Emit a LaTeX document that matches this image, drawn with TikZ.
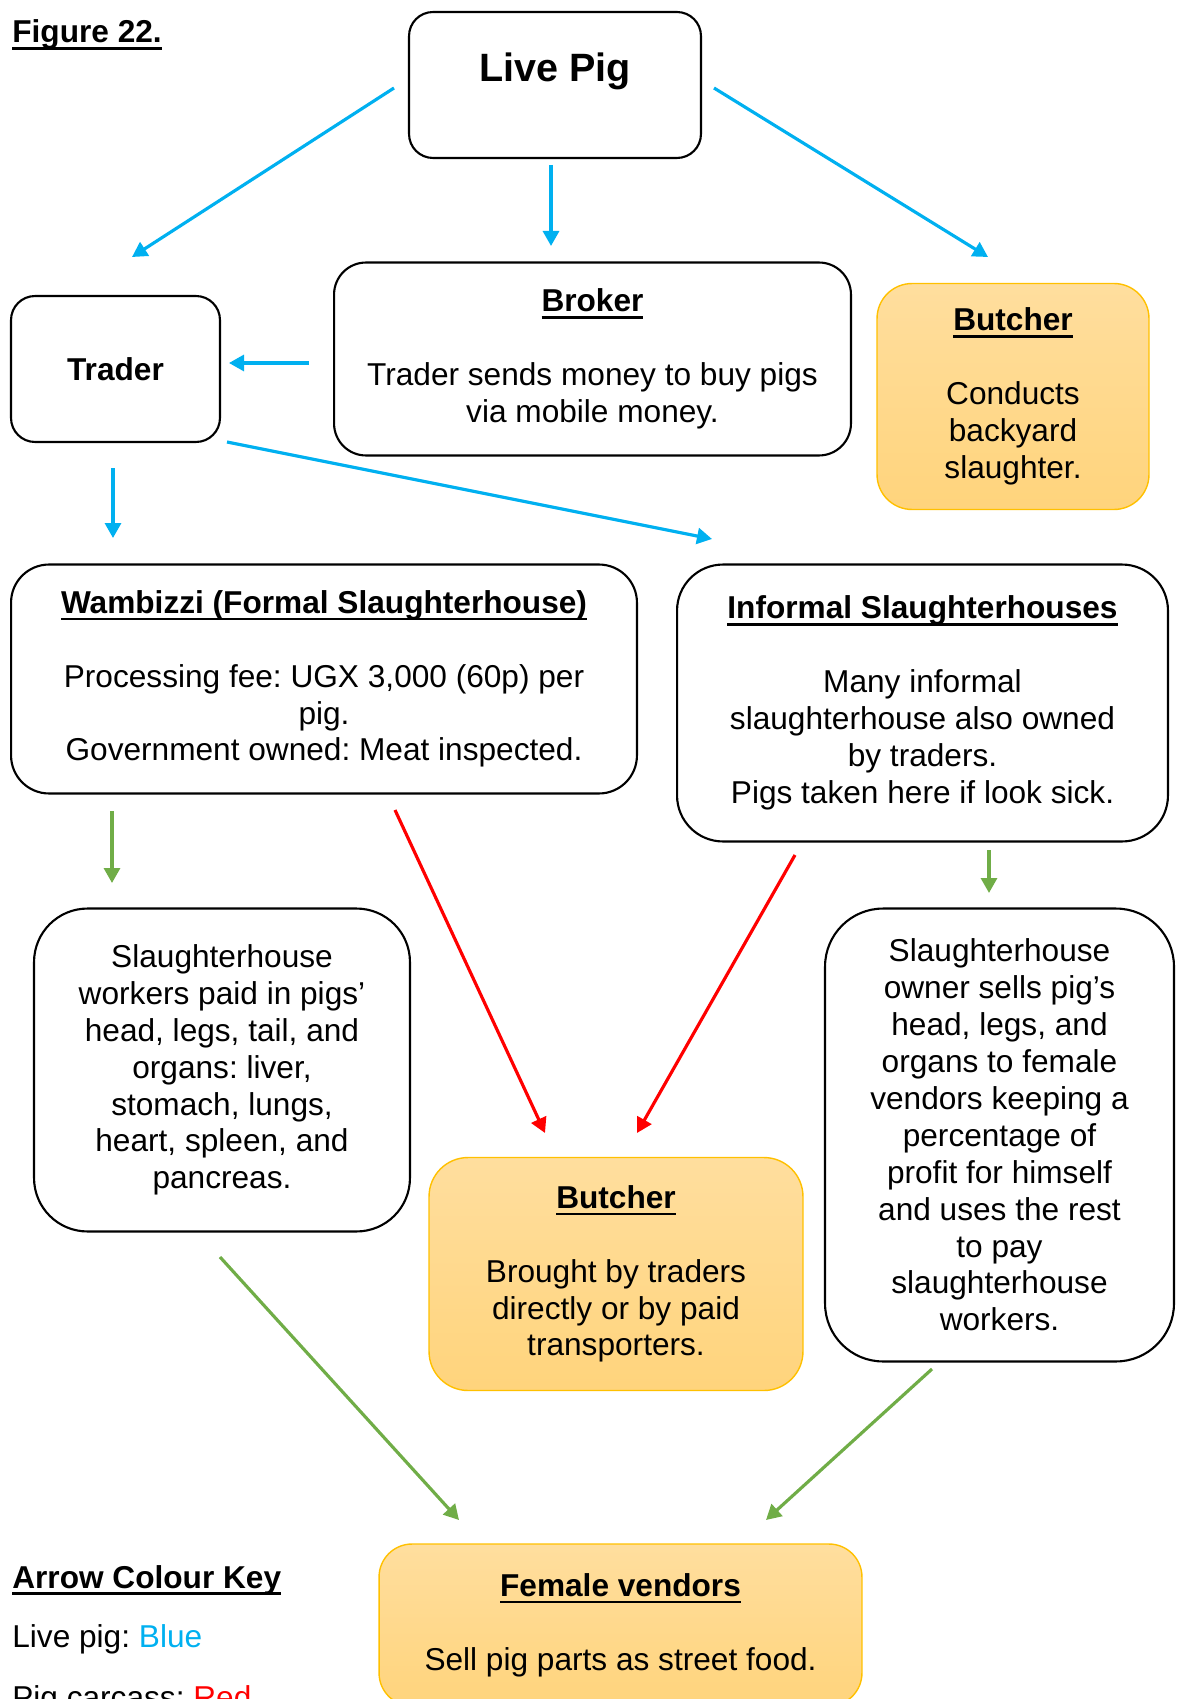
\documentclass[tikz,border=0pt]{standalone}
\usepackage{fontspec}
\setmainfont{Liberation Sans}
\frenchspacing
\usetikzlibrary{arrows.meta}
\definecolor{pigblue}{HTML}{00B0F0}
\definecolor{carcred}{HTML}{FF0000}
\definecolor{partgreen}{HTML}{70AD47}
\definecolor{goldtop}{HTML}{FFDE9E}
\definecolor{goldbot}{HTML}{FFD47C}
\definecolor{golddraw}{HTML}{FFC000}
\newsavebox\headbox
\newcommand{\boxhead}[1]{\sbox\headbox{\bfseries #1}\rlap{\rule[-4pt]{\wd\headbox}{1.6pt}}\usebox\headbox}
\newcommand{\bodysize}{\fontsize{18pt}{21pt}\selectfont}
\tikzset{
  plainbox/.style={draw=black,fill=white,line width=1.2pt,align=center,inner sep=0pt},
  goldbox/.style={draw=golddraw,top color=goldtop,bottom color=goldbot,line width=.8pt,align=center,inner sep=0pt},
  livearrow/.style={-{Triangle[length=3mm,width=3.2mm]},draw=pigblue,line width=1.8pt},
  carcarrow/.style={-{Triangle[length=3mm,width=3.2mm]},draw=carcred,line width=1.8pt},
  partarrow/.style={-{Triangle[length=3mm,width=3.2mm]},draw=partgreen,line width=1.8pt},
  keytext/.style={anchor=base west,inner sep=0pt},
}

\begin{document}
\begin{tikzpicture}[x=.02cm,y=-.02cm,font=\bodysize]
  \useasboundingbox (0,0) rectangle (1183,1699);
  \clip (0,0) rectangle (1183,1699);

  \node[keytext] (figtitle) at (12,43) {\boxhead{Figure 22.}};

  % ---------------- boxes ----------------
  \node[plainbox,rounded corners=.48cm,minimum width=5.84cm,minimum height=2.92cm,
    font=\fontsize{22.5pt}{26pt}\selectfont\bfseries,text height=.6cm,text depth=.72cm] (livepig) at (555,85) {Live Pig};
  \node[plainbox,rounded corners=.48cm,minimum width=4.18cm,minimum height=2.92cm,font=\bodysize\bfseries] (trader) at (115.5,369) {Trader};
  \node[plainbox,rounded corners=.64cm,minimum width=10.34cm,minimum height=3.86cm] (broker) at (592.5,359)
    {\boxhead{Broker}\\[21pt]Trader sends money to buy pigs\\via mobile money.};
  \node[goldbox,rounded corners=.7cm,minimum width=5.44cm,minimum height=4.52cm] (butcherhome) at (1013,396.5)
    {\boxhead{Butcher}\\[21pt]Conducts\\backyard\\slaughter.};
  \node[plainbox,rounded corners=.76cm,minimum width=12.52cm,minimum height=4.58cm] (wambizzi) at (324,679)
    {\boxhead{Wambizzi (Formal Slaughterhouse)}\\[21pt]Processing fee: UGX 3,000 (60p) per\\pig.\\Government owned: Meat inspected.};
  \node[plainbox,rounded corners=.92cm,minimum width=9.82cm,minimum height=5.54cm] (informal) at (922.5,703)
    {\boxhead{Informal Slaughterhouses}\\[21pt]Many informal\\slaughterhouse also owned\\by traders.\\Pigs taken here if look sick.};
  \node[plainbox,rounded corners=1.07cm,minimum width=7.52cm,minimum height=6.46cm] (workers) at (222,1070)
    {Slaughterhouse\\workers paid in pigs’\\head, legs, tail, and\\organs: liver,\\stomach, lungs,\\heart, spleen, and\\pancreas.};
  \node[goldbox,rounded corners=.78cm,minimum width=7.48cm,minimum height=4.66cm] (butchershop) at (616,1274)
    {\boxhead{Butcher}\\[21pt]Brought by traders\\directly or by paid\\transporters.};
  \node[plainbox,rounded corners=1.16cm,minimum width=6.98cm,minimum height=9.06cm] (owner) at (999.5,1135)
    {Slaughterhouse\\owner sells pig’s\\head, legs, and\\organs to female\\vendors keeping a\\percentage of\\profit for himself\\and uses the rest\\to pay\\slaughterhouse\\workers.};
  \node[goldbox,rounded corners=.66cm,minimum width=9.66cm,minimum height=3.24cm] (vendors) at (620.5,1625)
    {\boxhead{Female vendors}\\[21pt]Sell pig parts as street food.};

  % ---------------- arrow ends ----------------
  \coordinate (lp-w) at (394,88);   \coordinate (tr-in) at (132,257);
  \coordinate (lp-s) at (551,165);  \coordinate (br-in) at (551,246);
  \coordinate (lp-e) at (714,88);   \coordinate (bh-in) at (988,257);
  \coordinate (br-w) at (309,363);  \coordinate (tr-e) at (229,363);
  \coordinate (tr-s) at (113,468);  \coordinate (wb-in) at (113,538);
  \coordinate (tr-se) at (227,442); \coordinate (in-in) at (712,539);
  \coordinate (wb-s) at (395,810);  \coordinate (bs-w) at (545,1133);
  \coordinate (in-s) at (795,855);  \coordinate (bs-e) at (637,1133);
  \coordinate (wb-sw) at (112,811); \coordinate (wk-in) at (112,883);
  \coordinate (in-se) at (989,850); \coordinate (ow-in) at (989,893);
  \coordinate (wk-s) at (220,1257); \coordinate (fv-w) at (459,1520);
  \coordinate (ow-s) at (932,1369); \coordinate (fv-e) at (766,1520);

  % ---------------- arrows ----------------
  \foreach \a/\b in {lp-w/tr-in,lp-s/br-in,lp-e/bh-in,br-w/tr-e,tr-s/wb-in,tr-se/in-in}
    \draw[livearrow] (\a) -- (\b);
  \foreach \a/\b in {wb-s/bs-w,in-s/bs-e}
    \draw[carcarrow] (\a) -- (\b);
  \foreach \a/\b in {wb-sw/wk-in,in-se/ow-in,wk-s/fv-w,ow-s/fv-e}
    \draw[partarrow] (\a) -- (\b);

  % ---------------- key ----------------
  \node[keytext] (keytitle) at (12,1588) {\boxhead{Arrow Colour Key}};
  \node[keytext] (keylive) at (12,1647) {Live pig: \textcolor{pigblue}{Blue}};
  \node[keytext] (keycarc) at (12,1708) {Pig carcass: \textcolor{carcred}{Red}};
\end{tikzpicture}
\end{document}
